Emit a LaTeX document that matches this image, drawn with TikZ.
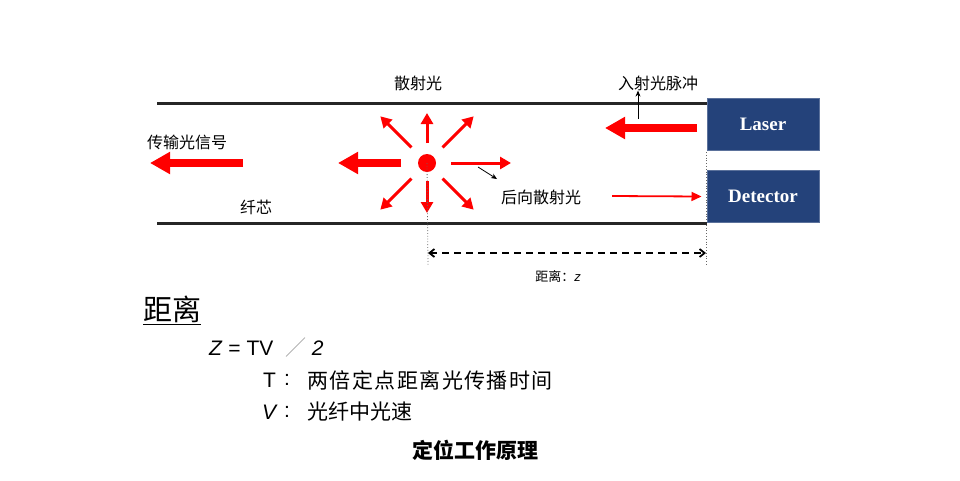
\documentclass[tikz,border=0pt]{standalone}
\usepackage{fontspec}
\setmainfont{Noto Sans CJK SC}
\newfontfamily\latinsf{Liberation Sans}
\newfontfamily\boxfont{Liberation Serif}
\usetikzlibrary{arrows.meta}

\definecolor{boxblue}{HTML}{24427A}
\definecolor{pulsered}{HTML}{FF0000}

\tikzset{
	fiber/.style={line width=3pt,black!85},
	bigarrow/.style={pulsered,line width=8pt,-{Triangle[length=20pt,width=21pt]}},
	ray/.style={pulsered,line width=3pt,-{Triangle[length=11pt,width=12pt]}},
	thinray/.style={pulsered,line width=1.8pt,-{Triangle[length=10pt,width=9pt]}},
	pointer/.style={black,line width=0.8pt,-{Stealth[length=6pt,width=5pt]}},
	guide/.style={black!60,line width=0.8pt,dotted},
	span/.style={black,line width=1.8pt,dash pattern=on 7pt off 5pt,{Straight Barb[length=5pt,width=8pt]}-{Straight Barb[length=5pt,width=8pt]}},
	devbox/.style={fill=boxblue,draw=boxblue!75,line width=1pt,minimum width=112pt,minimum height=52pt,text=white,font=\boxfont\bfseries\fontsize{19}{19}\selectfont},
	lbl/.style={inner sep=0pt,font=\fontsize{16}{16}\selectfont},
	formula/.style={inner sep=0pt,anchor=west,font=\fontsize{21}{21}\selectfont}
}

\begin{document}
\begin{tikzpicture}[x=1pt,y=-1pt]
			\useasboundingbox (0,0) rectangle (960,480);

			\draw [guide] (706,152) -- (706,266);

			% fibre
			\draw [fiber] (157,103) -- (707,103);
			\draw [fiber] (157,223) -- (707,223);

			\node [devbox] (laser) at (763,124.5) {Laser};
			\node [devbox] (detector) at (763,196.5) {Detector};

			\node [circle,fill=pulsered,minimum size=18pt,inner sep=0pt] (spot) at (427,163) {};

			% scattering at the spot
			\draw [ray] (spot) ++(90:20pt) -- ++(90:30pt);
			\draw [ray] (spot) ++(-90:18pt) -- ++(-90:32pt);
			\draw [ray] (spot) ++(0:24pt) -- ++(0:60pt);
			\foreach \a in {45,135,225,315}
				\draw [ray] (spot) ++(\a:22pt) -- ++(\a:44pt);
			\draw [bigarrow] (spot) ++(-26pt,0) -- ++(-63pt,0);

			\coordinate (spotfoot) at (428,266);
			\draw [guide] (spot.center) -- (spotfoot);

			\coordinate (outstart) at (243,163);
			\coordinate (outend) at (150,163);
			\draw [bigarrow] (outstart) -- (outend);

			\coordinate (pulsestart) at (697,128);
			\coordinate (pulseend) at (605,128);
			\draw [bigarrow] (pulsestart) -- (pulseend);

			\coordinate (backstart) at (612,196);
			\draw [thinray] (backstart) -- ([xshift=-5pt]detector.west);

			\node [lbl] (scatter) at (418,83) {散射光};
			\node [lbl] (pulse) at (658,83) {入射光脉冲};
			\node [lbl] (signal) at (187,142) {传输光信号};
			\node [lbl] (core) at (256,207) {纤芯};
			\node [lbl] (back) at (541,197) {后向散射光};

			\coordinate (pulsefoot) at (638,119);
			\draw [pointer] (pulsefoot) -- (pulse.south -| pulsefoot);
			\coordinate (backfoot) at (478,167);
			\coordinate (backtip) at (497,179);
			\draw [pointer] (backfoot) -- (backtip);

			% distance z
			\coordinate (zleft) at (428,253);
			\coordinate (zright) at (706,253);
			\draw [span] (zleft) -- (zright);
			\node [inner sep=0pt,font=\fontsize{13}{13}\selectfont] (zlabel) at (558,277) {距离：{\latinsf\itshape z}};

			% formula
			\node [inner sep=0pt,anchor=west,font=\fontsize{29}{29}\selectfont] (title) at (143,310) {\underline{距离}};
			\node [formula,font=\latinsf\fontsize{21}{21}\selectfont] (zeq) at (209,348) {\textit{Z} = TV \ {\color{black!35}\fontspec{Noto Sans CJK SC}／}\ \textit{2}};
			\node [formula,font=\latinsf\fontsize{21}{21}\selectfont] (tsym) at (263,380) {T};
			\node [formula,font=\latinsf\fontsize{21}{21}\selectfont] (tcolon) at (284,380) {:};
			\node [formula] (tdesc) at (307,380) {\addfontfeature{LetterSpace=7}两倍定点距离光传播时间};
			\node [formula,font=\latinsf\fontsize{21}{21}\selectfont] (vsym) at (262,412) {\textit{V}};
			\node [formula,font=\latinsf\fontsize{21}{21}\selectfont] (vcolon) at (284,412) {:};
			\node [formula] (vdesc) at (307,412) {光纤中光速};

			\node [inner sep=0pt,font=\bfseries\fontsize{21}{21}\selectfont] (caption) at (475,450) {定位工作原理};
\end{tikzpicture}
\end{document}
